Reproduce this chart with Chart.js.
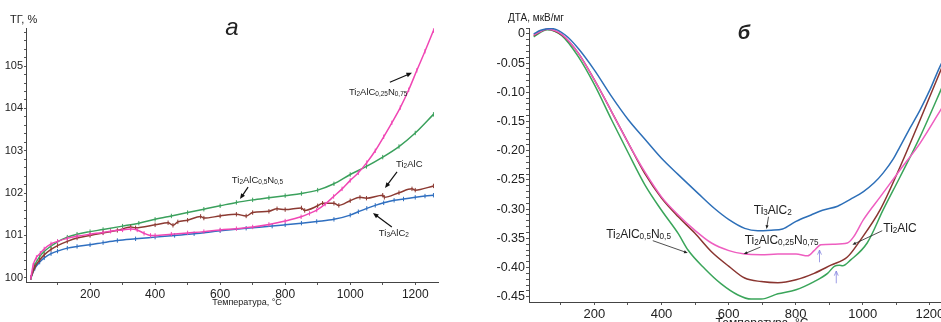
<!DOCTYPE html>
<html lang="ru">
<head>
<meta charset="UTF-8">
<title>ТГ и ДТА</title>
<script src="https://cdn.jsdelivr.net/npm/chart.js@4.4.1/dist/chart.umd.min.js"></script>
<style>
  html, body { margin: 0; padding: 0; background: #fff; overflow: hidden; width: 941px; height: 322px; }
  #tg { position: absolute; left: 0; top: 0; }
  #dta { position: absolute; left: 470px; top: 0; }
</style>
</head>
<body>
<canvas id="tg" width="470" height="322"></canvas>
<canvas id="dta" width="500" height="340"></canvas>
<script>
// ---- panel a: ТГ, % ----
const tempTicks = [200, 400, 600, 800, 1000, 1200];
const tgTicks = [100, 101, 102, 103, 104, 105];
const tgTickLabels = ['100', '101', '102', '103', '104', '105'];

const tgTempTi3AlC2 = [18, 30, 45, 59, 80, 100, 130, 160, 200, 240, 284, 340, 400, 460, 520, 600, 680, 760, 800, 850, 897, 950, 1000, 1025, 1051, 1077, 1103, 1135, 1164, 1200, 1230, 1256];
const tgTi3AlC2 = [100.0, 100.22, 100.37, 100.47, 100.57, 100.63, 100.70, 100.74, 100.78, 100.83, 100.88, 100.92, 100.96, 101.0, 101.04, 101.11, 101.17, 101.22, 101.25, 101.29, 101.33, 101.38, 101.48, 101.56, 101.64, 101.71, 101.77, 101.83, 101.86, 101.90, 101.93, 101.95];

const tgTempTi2AlCN05 = [18, 30, 45, 59, 80, 100, 130, 160, 200, 240, 300, 350, 400, 450, 500, 550, 600, 650, 700, 750, 800, 850, 900, 950, 1000, 1050, 1100, 1150, 1200, 1256];
const tgTi2AlCN05 = [100.0, 100.3, 100.5, 100.62, 100.75, 100.85, 100.96, 101.03, 101.09, 101.14, 101.22, 101.29, 101.38, 101.46, 101.54, 101.62, 101.70, 101.78, 101.84, 101.89, 101.94, 101.99, 102.07, 102.22, 102.44, 102.63, 102.85, 103.10, 103.42, 103.86];

const tgTempTi2AlC = [18, 30, 45, 59, 80, 100, 130, 160, 200, 240, 284, 325, 340, 400, 440, 455, 470, 500, 540, 550, 600, 650, 680, 700, 750, 775, 800, 850, 860, 900, 915, 950, 965, 1000, 1030, 1050, 1100, 1105, 1150, 1190, 1200, 1256];
const tgTi2AlC = [100.0, 100.25, 100.42, 100.54, 100.67, 100.76, 100.86, 100.94, 101.0, 101.06, 101.12, 101.20, 101.18, 101.25, 101.30, 101.24, 101.32, 101.36, 101.45, 101.41, 101.46, 101.50, 101.46, 101.54, 101.57, 101.63, 101.61, 101.65, 101.59, 101.70, 101.76, 101.76, 101.71, 101.82, 101.90, 101.88, 101.95, 101.90, 102.01, 102.10, 102.07, 102.17];

const tgTempTi2AlCN075 = [18, 25, 35, 47, 59, 80, 100, 130, 160, 200, 240, 263, 300, 325, 345, 366, 386, 400, 450, 500, 550, 600, 650, 700, 750, 800, 849, 875, 897, 923, 949, 975, 1000, 1025, 1051, 1077, 1103, 1128, 1154, 1180, 1205, 1230, 1256];
const tgTi2AlCN075 = [100.0, 100.3, 100.48, 100.58, 100.68, 100.8, 100.86, 100.93, 100.98, 101.03, 101.07, 101.1, 101.13, 101.15, 101.13, 101.05, 101.0, 101.0, 101.03, 101.06, 101.09, 101.13, 101.16, 101.2, 101.26, 101.34, 101.44, 101.52, 101.6, 101.74, 101.92, 102.1, 102.3, 102.48, 102.72, 103.0, 103.33, 103.66, 104.02, 104.44, 104.90, 105.35, 105.84];

// ---- panel б: ДТА, мкВ/мг ----
const dtaTicks = [0, -0.05, -0.10, -0.15, -0.20, -0.25, -0.30, -0.35, -0.40, -0.45];
const dtaTickLabels = ['0', '-0.05', '-0.10', '-0.15', '-0.20', '-0.25', '-0.30', '-0.35', '-0.40', '-0.45'];

const dtaTempTi3AlC2 = [19, 40, 73, 113, 152, 200, 251, 301, 350, 400, 450, 509, 558, 601, 648, 687, 727, 761, 801, 846, 880, 925, 964, 1002, 1034, 1061, 1090, 1111, 1141, 1171, 1200, 1230, 1245];
const dtaTi3AlC2 = [0.0, 0.006, 0.009, -0.002, -0.025, -0.062, -0.107, -0.147, -0.18, -0.213, -0.241, -0.273, -0.299, -0.318, -0.333, -0.337, -0.336, -0.334, -0.321, -0.31, -0.302, -0.295, -0.283, -0.27, -0.255, -0.238, -0.215, -0.193, -0.161, -0.130, -0.096, -0.056, -0.04];

const dtaTempTi2AlCN05 = [19, 59, 103, 152, 200, 251, 301, 350, 400, 450, 479, 529, 578, 628, 667, 697, 747, 801, 855, 895, 915, 930, 940, 964, 1013, 1061, 1111, 1171, 1245];
const dtaTi2AlCN05 = [-0.005, 0.007, -0.003, -0.039, -0.087, -0.147, -0.204, -0.258, -0.302, -0.342, -0.370, -0.402, -0.428, -0.447, -0.454, -0.454, -0.445, -0.438, -0.424, -0.41, -0.398, -0.396, -0.397, -0.387, -0.358, -0.301, -0.245, -0.176, -0.080];

const dtaTempTi2AlC = [19, 59, 103, 152, 200, 251, 301, 350, 400, 450, 499, 549, 601, 648, 697, 747, 801, 855, 905, 954, 993, 1052, 1111, 1171, 1245];
const dtaTi2AlC = [-0.003, 0.008, -0.002, -0.033, -0.079, -0.133, -0.187, -0.239, -0.281, -0.313, -0.341, -0.373, -0.398, -0.418, -0.424, -0.426, -0.421, -0.41, -0.396, -0.382, -0.353, -0.301, -0.228, -0.147, -0.045];

const dtaTempTi2AlCN075 = [19, 59, 103, 152, 200, 251, 301, 350, 400, 450, 499, 549, 601, 648, 697, 747, 801, 836, 855, 875, 915, 954, 972, 1002, 1052, 1111, 1171, 1245];
const dtaTi2AlCN075 = [-0.002, 0.008, -0.001, -0.033, -0.079, -0.133, -0.187, -0.236, -0.279, -0.31, -0.336, -0.358, -0.371, -0.377, -0.378, -0.377, -0.377, -0.38, -0.371, -0.361, -0.36, -0.358, -0.348, -0.318, -0.279, -0.233, -0.187, -0.118];

const FONT = '"Liberation Sans", Arial, sans-serif';
Chart.defaults.font.family = FONT;
Chart.defaults.color = '#222';

const pts = (xs, ys) => xs.map((x, i) => ({ x, y: ys[i] }));

// draws formula with subscripts, e.g. Ti2AlC0,5N0,5
function chem(ctx, text, x, y, size) {
    text.split(/(\d[\d,]*)/).forEach((p, i) => {
        if (!p) return;
        const sub = i % 2 === 1;
        ctx.font = (sub ? size * 0.68 : size) + 'px ' + FONT;
        ctx.fillText(p, x, y + (sub ? size * 0.1 : 0));
        x += ctx.measureText(p).width;
    });
}

function arrow(ctx, x1, y1, x2, y2, a) {
    const ang = Math.atan2(y2 - y1, x2 - x1);
    const h = a.head || 6;
    ctx.strokeStyle = a.color || '#111';
    ctx.fillStyle = a.color || '#111';
    ctx.lineWidth = a.width || 1;
    ctx.beginPath();
    ctx.moveTo(x1, y1);
    ctx.lineTo(a.open ? x2 : x2 - Math.cos(ang) * h * 0.7, a.open ? y2 : y2 - Math.sin(ang) * h * 0.7);
    ctx.stroke();
    ctx.beginPath();
    ctx.moveTo(x2 - h * Math.cos(ang - 0.4), y2 - h * Math.sin(ang - 0.4));
    ctx.lineTo(x2, y2);
    ctx.lineTo(x2 - h * Math.cos(ang + 0.4), y2 - h * Math.sin(ang + 0.4));
    if (a.open) ctx.stroke(); else { ctx.closePath(); ctx.fill(); }
}

const annotate = {
    id: 'annotate',
    afterDraw(chart, args, opts) {
        const { ctx, scales: { x, y } } = chart;
        ctx.save();
        ctx.fillStyle = '#222';
        ctx.textAlign = 'left';
        ctx.textBaseline = 'alphabetic';
        opts.labels.forEach(l => chem(ctx, l.t, x.getPixelForValue(l.x), y.getPixelForValue(l.y), opts.size));
        opts.arrows.forEach(a => arrow(ctx,
            x.getPixelForValue(a.from[0]), y.getPixelForValue(a.from[1]),
            x.getPixelForValue(a.to[0]), y.getPixelForValue(a.to[1]), Object.assign({}, opts.arrowStyle, a)));
        opts.texts.forEach(t => {
            ctx.font = t.font;
            ctx.fillStyle = '#222';
            ctx.textAlign = t.align || 'left';
            ctx.fillText(t.text, t.px, t.py);
        });
        ctx.restore();
    }
};

function axes(o) {
    const near = (arr, v) => arr.findIndex(m => Math.abs(m - v) < 1e-9);
    return {
        x: {
            type: 'linear', min: o.xMin, max: o.xMax,
            afterBuildTicks: s => { s.ticks = []; for (let t = 100; t <= 1200; t += 100) s.ticks.push({ value: t }); },
            afterFit: s => { s.height = o.xHeight; },
            border: { color: '#444', width: 1 },
            grid: { drawOnChartArea: false, tickLength: 3, color: '#555' },
            ticks: { autoSkip: false, maxRotation: 0, padding: 2, font: { size: o.xFont }, color: '#222',
                callback: v => tempTicks.includes(v) ? String(v) : '' }
        },
        y: {
            type: 'linear', min: o.yMin, max: o.yMax,
            afterBuildTicks: s => {
                s.ticks = [];
                for (let i = 0; ; i++) {
                    const v = o.yFrom + i * o.yMinor;
                    if (v > o.yMax + 1e-9 || v < o.yMin - 1e-9) break;
                    s.ticks.push({ value: Math.round(v * 1000) / 1000 });
                }
            },
            afterFit: s => { s.width = o.yWidth; },
            border: { color: '#444', width: 1 },
            grid: { drawOnChartArea: false, tickLength: o.yTick, color: '#555' },
            ticks: { autoSkip: false, padding: 1, font: { size: o.yFont }, color: '#222',
                callback: v => { const k = near(o.yTicks, v); return k >= 0 ? o.yLabels[k] : ''; } }
        }
    };
}

function line(label, xs, ys, color, markers) {
    return {
        label, data: pts(xs, ys), borderColor: color, backgroundColor: color,
        borderWidth: 1.5, cubicInterpolationMode: 'monotone',
        pointStyle: 'line', pointRotation: 90,
        pointRadius: markers ? 2.2 : 0, pointBorderWidth: 1, pointBorderColor: color, pointHoverRadius: 0
    };
}

new Chart(document.getElementById('tg'), {
    type: 'line',
    data: {
        datasets: [
            line('Ti2AlC0,25N0,75', tgTempTi2AlCN075, tgTi2AlCN075, '#f046b4', true),
            line('Ti2AlC', tgTempTi2AlC, tgTi2AlC, '#8c3a32', true),
            line('Ti2AlC0,5N0,5', tgTempTi2AlCN05, tgTi2AlCN05, '#3aa05c', true),
            line('Ti3AlC2', tgTempTi3AlC2, tgTi3AlC2, '#2f6fc0', true)
        ]
    },
    options: {
        responsive: false, animation: false,
        layout: { padding: { top: 28, right: 32, left: 0, bottom: 0 } },
        plugins: {
            legend: { display: false }, tooltip: { enabled: false },
            annotate: {
                size: 9.5,
                labels: [
                    { t: 'Ti2AlC0,5N0,5', x: 636, y: 102.24 },
                    { t: 'Ti2AlC', x: 1141, y: 102.62 },
                    { t: 'Ti3AlC2', x: 1088, y: 100.99 },
                    { t: 'Ti2AlC0,25N0,75', x: 996, y: 104.32 }
                ],
                arrows: [
                    { from: [686, 102.14], to: [661, 101.86] },
                    { from: [1144, 102.50], to: [1107, 102.12] },
                    { from: [1128, 101.20], to: [1070, 101.53] },
                    { from: [1122, 104.62], to: [1190, 104.84] }
                ],
                arrowStyle: { head: 6, width: 1.2, color: '#111' },
                texts: [
                    { text: 'ТГ, %', px: 10, py: 23, font: '11px ' + FONT },
                    { text: 'а', px: 232, py: 35, font: 'italic 24px ' + FONT, align: 'center' },
                    { text: 'Температура, °С', px: 247, py: 305, font: '9px ' + FONT, align: 'center' }
                ]
            }
        },
        scales: axes({ xMin: 3, xMax: 1270, xHeight: 40, xFont: 12,
            yMin: 99.9, yMax: 105.9, yFrom: 100, yMinor: 0.2, yTicks: tgTicks, yLabels: tgTickLabels,
            yWidth: 26, yTick: 2, yFont: 11 })
    },
    plugins: [annotate]
});

new Chart(document.getElementById('dta'), {
    type: 'line',
    data: {
        datasets: [
            line('Ti3AlC2', dtaTempTi3AlC2, dtaTi3AlC2, '#2d6fb8', false),
            line('Ti2AlC0,25N0,75', dtaTempTi2AlCN075, dtaTi2AlCN075, '#ee5ec0', false),
            line('Ti2AlC', dtaTempTi2AlC, dtaTi2AlC, '#8a3530', false),
            line('Ti2AlC0,5N0,5', dtaTempTi2AlCN05, dtaTi2AlCN05, '#3aa55a', false)
        ]
    },
    options: {
        responsive: false, animation: false,
        layout: { padding: { top: 28, right: 20, left: 0, bottom: 0 } },
        plugins: {
            legend: { display: false }, tooltip: { enabled: false },
            annotate: {
                size: 12,
                labels: [
                    { t: 'Ti3AlC2', x: 675, y: -0.308 },
                    { t: 'Ti2AlC0,25N0,75', x: 648, y: -0.36 },
                    { t: 'Ti2AlC0,5N0,5', x: 235, y: -0.349 },
                    { t: 'Ti2AlC', x: 1061, y: -0.339 }
                ],
                arrows: [
                    { from: [719, -0.313], to: [713, -0.334] },
                    { from: [695, -0.365], to: [645, -0.377] },
                    { from: [374, -0.354], to: [478, -0.375] },
                    { from: [1058, -0.337], to: [969, -0.361] },
                    { from: [871, -0.391], to: [871, -0.370], color: '#8585e0', open: true, head: 5 },
                    { from: [921, -0.427], to: [921, -0.406], color: '#8585e0', open: true, head: 5 }
                ],
                arrowStyle: { head: 4, width: 0.8, color: '#222' },
                texts: [
                    { text: 'ДТА, мкВ/мг', px: 38, py: 21, font: '10px ' + FONT },
                    { text: 'б', px: 274, py: 39, font: 'italic bold 20px ' + FONT, align: 'center' },
                    { text: 'Температура, °С', px: 292, py: 327, font: '12px ' + FONT, align: 'center' }
                ]
            }
        },
        scales: axes({ xMin: 5, xMax: 1260, xHeight: 38, xFont: 13,
            yMin: -0.459, yMax: 0.01, yFrom: 0.01, yMinor: -0.01, yTicks: dtaTicks, yLabels: dtaTickLabels,
            yWidth: 59, yTick: 3, yFont: 12.5 })
    },
    plugins: [annotate]
});
</script>
</body>
</html>
